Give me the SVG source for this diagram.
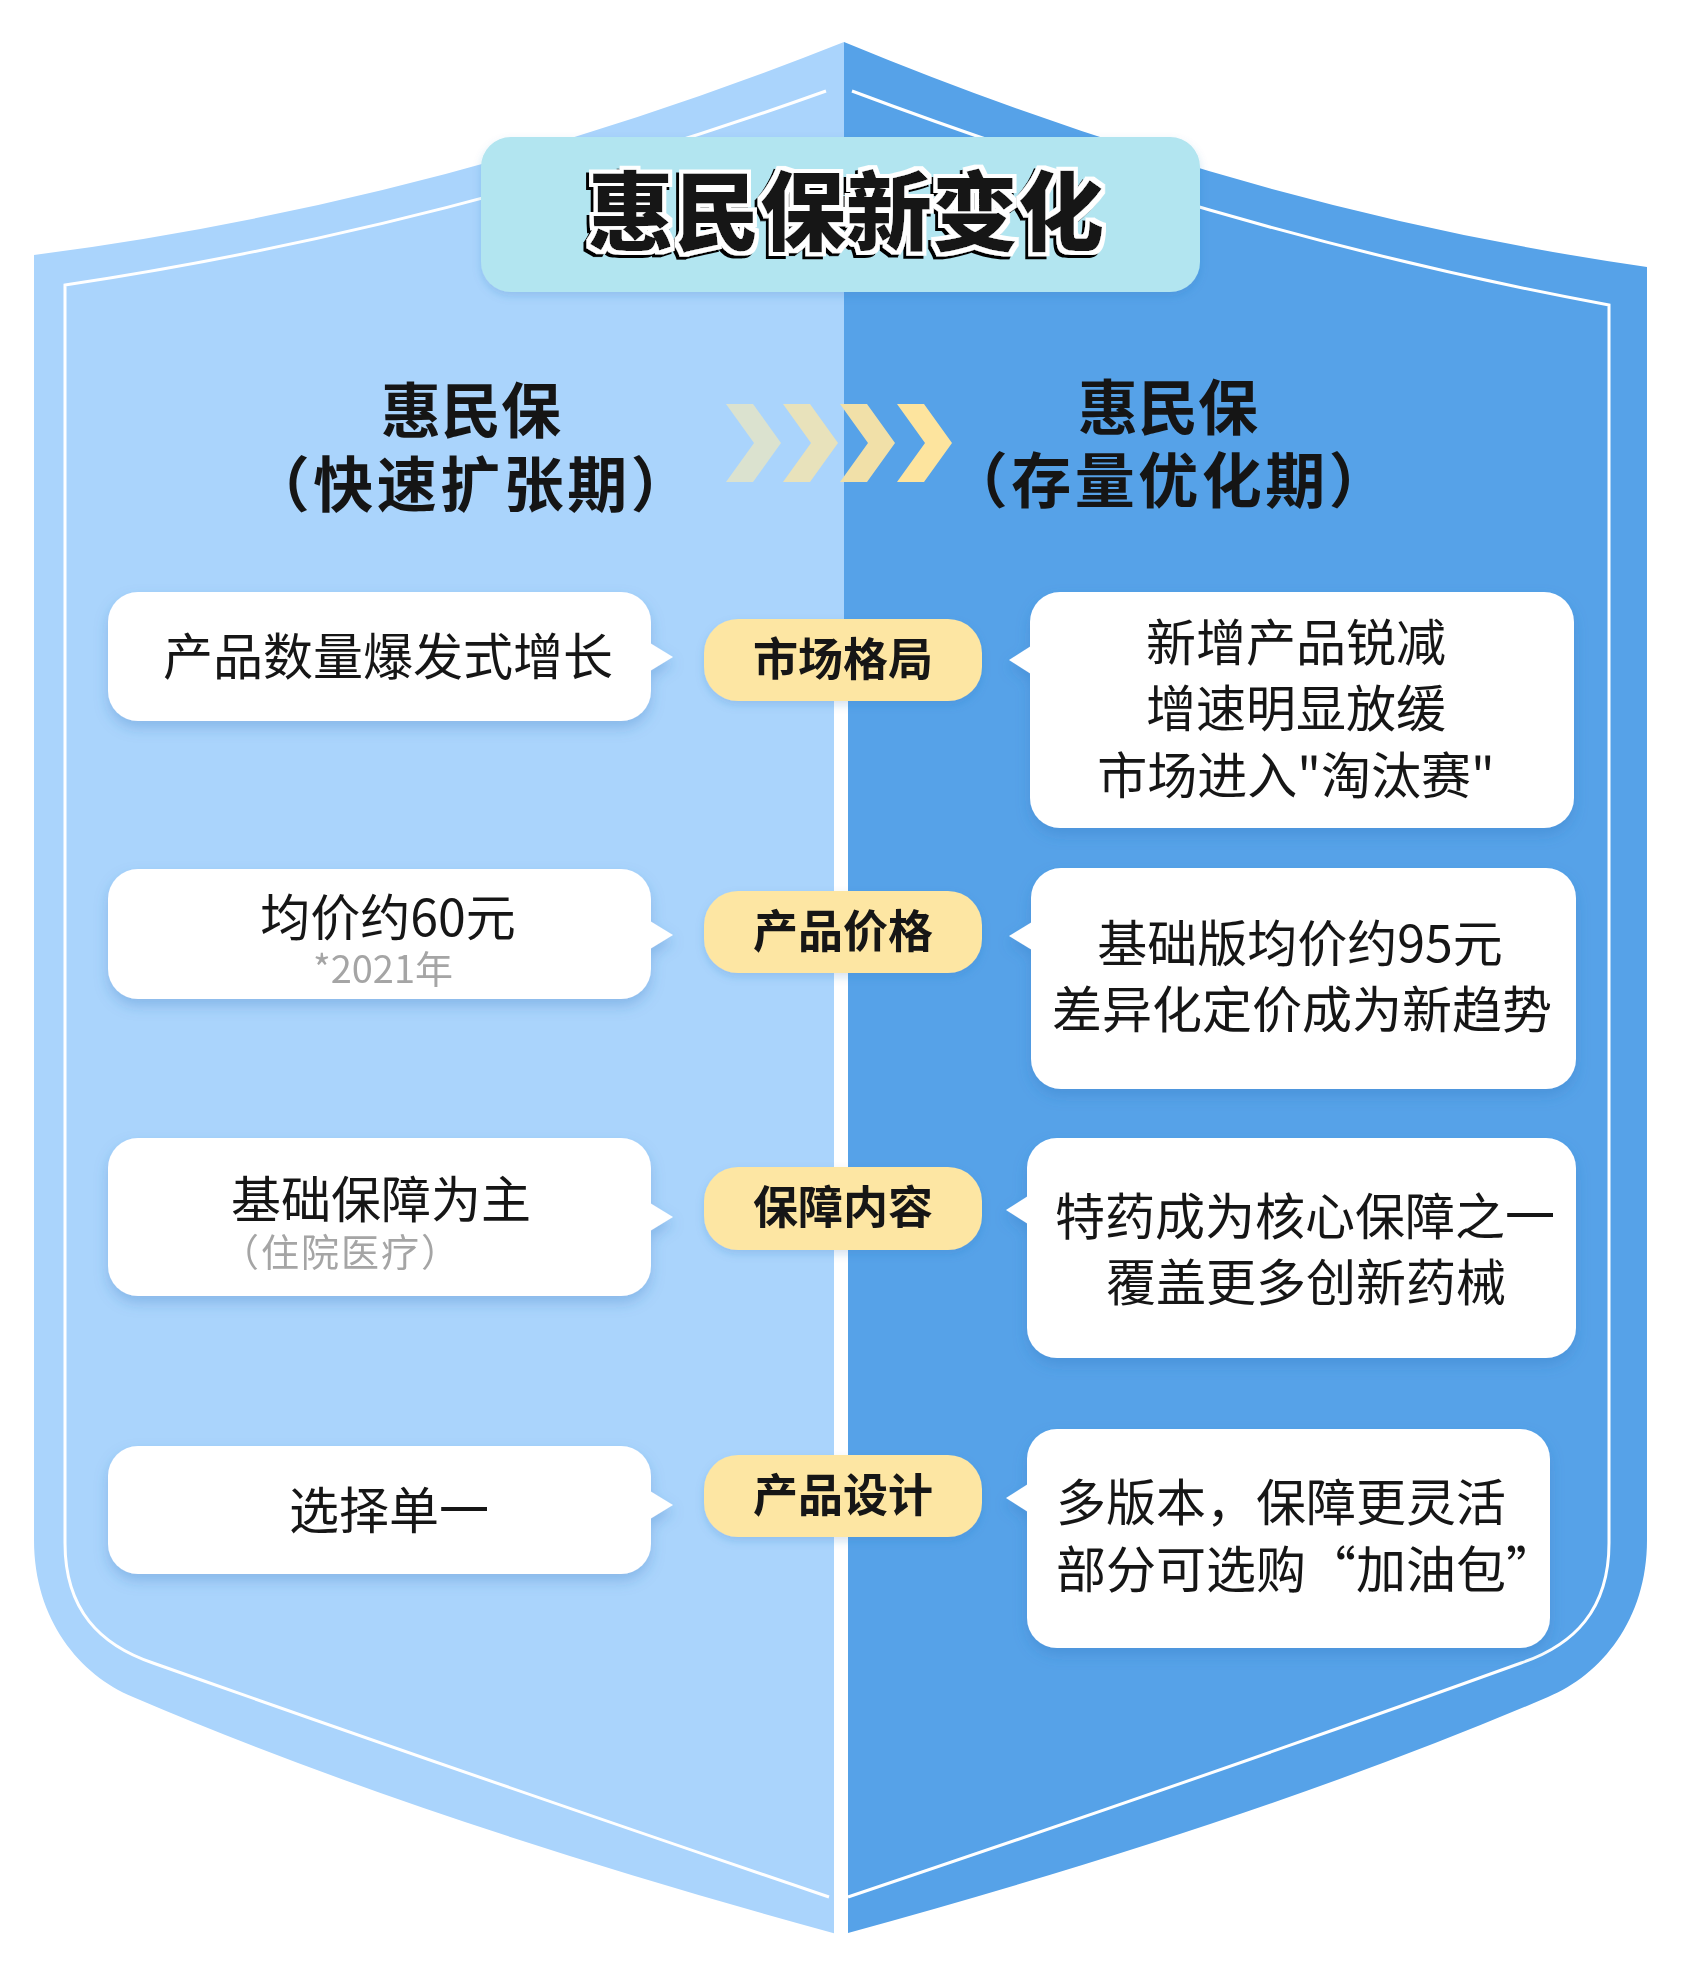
<svg xmlns="http://www.w3.org/2000/svg" width="1685" height="1968" viewBox="0 0 1685 1968">
<defs>
<style>
.t{font-family:"Noto Sans CJK SC","Noto Sans",sans-serif;fill:#151515;}
.body{font-size:50px;font-weight:400;}
.sub{font-size:38px;fill:#a5a5a5;}
.hd{font-size:60px;font-weight:700;}
.pl{font-size:45px;font-weight:700;}
.box{fill:#ffffff;}
.pill{fill:#fde6a3;}
.inner{fill:none;stroke:#ffffff;stroke-width:3;}
</style>
<filter id="sh" x="-10%" y="-10%" width="120%" height="130%">
<feDropShadow dx="0" dy="7" stdDeviation="7" flood-color="#2f6fb5" flood-opacity="0.28"/>
</filter>
<filter id="shs" x="-10%" y="-10%" width="120%" height="130%">
<feDropShadow dx="0" dy="4" stdDeviation="4" flood-color="#2f6fb5" flood-opacity="0.2"/>
</filter>
<filter id="tfx" x="-5%" y="-25%" width="110%" height="150%">
<feMorphology in="SourceAlpha" operator="dilate" radius="3.5" result="d"/>
<feOffset in="d" dx="-3" dy="3" result="o"/>
<feFlood flood-color="#000000" result="k"/>
<feComposite in="k" in2="o" operator="in" result="shadow"/>
<feFlood flood-color="#ffffff" result="w"/>
<feComposite in="w" in2="d" operator="in" result="outline"/>
<feMerge>
<feMergeNode in="shadow"/>
<feMergeNode in="outline"/>
<feMergeNode in="SourceGraphic"/>
</feMerge>
</filter>
</defs>
<rect width="1685" height="1968" fill="#ffffff"/>
<g id="shield">
<path d="M 844 42 Q 442 202 34 255 L 34 1540 C 34 1620 80 1675 133 1697 Q 420 1820 833 1933 L 844 1936 Z" fill="#aad4fc"/>
<path d="M 844 42 Q 1250 210 1647 267 L 1647 1540 C 1647 1620 1601 1675 1548 1697 Q 1261 1820 848 1933 L 844 1936 Z" fill="#56a2e8"/>
<path class="inner" d="M 826 91 Q 440 229 65 285 L 65 1543 C 65 1610 100 1645 153 1663 Q 470 1775 829 1897"/>
<path class="inner" d="M 852 91 Q 1241 237 1609 305 L 1609 1543 C 1609 1610 1574 1645 1521 1663 Q 1211 1775 848 1897"/>
</g>
<g id="connectors">
<rect x="834" y="700" width="14" height="1245" fill="#ffffff"/>
</g>
<g id="title">
<rect x="481" y="137" width="719" height="155" rx="30" fill="#b2e5f0" filter="url(#shs)"/>
<text class="t" x="846" y="244" text-anchor="middle" font-size="86" font-weight="900" fill="#000" filter="url(#tfx)">惠民保新变化</text>
</g>
<g id="header-left">
<text class="t hd" x="471" y="433" text-anchor="middle">惠民保</text>
<text class="t hd" x="472" y="507" text-anchor="middle" letter-spacing="3.5">（快速扩张期）</text>
</g>
<g id="header-right">
<text class="t hd" x="1168" y="430" text-anchor="middle">惠民保</text>
<text class="t hd" x="1170" y="503" text-anchor="middle" letter-spacing="3.5">（存量优化期）</text>
</g>
<g id="chevrons">
<polygon points="726,404 753,404 781,443 753,482 726,482 754,443" fill="#dbe2cf"/>
<polygon points="783,404 810,404 838,443 810,482 783,482 811,443" fill="#e8e2bb"/>
<polygon points="840,404 867,404 895,443 867,482 840,482 868,443" fill="#f1e0a8"/>
<polygon points="897,404 924,404 952,443 924,482 897,482 925,443" fill="#fde49e"/>
</g>
<g id="row1-left" filter="url(#sh)">
<rect class="box" x="108" y="592" width="543" height="129" rx="30"/>
<polygon class="box" points="650,643 673,657 650,671"/>
<text class="t body" x="388" y="675" text-anchor="middle">产品数量爆发式增长</text>
</g>
<g id="row1-pill" filter="url(#shs)">
<rect class="pill" x="704" y="619" width="278" height="82" rx="34"/>
<text class="t pl" x="843" y="676" text-anchor="middle">市场格局</text>
</g>
<g id="row1-right" filter="url(#sh)">
<rect class="box" x="1030" y="592" width="544" height="236" rx="30"/>
<polygon class="box" points="1031,646 1009,660 1031,674"/>
<text class="t body" x="1296" y="661" text-anchor="middle">新增产品锐减</text>
<text class="t body" x="1296" y="727" text-anchor="middle">增速明显放缓</text>
<text class="t body" x="1296" y="794" text-anchor="middle">市场进入"淘汰赛"</text>
</g>
<g id="row2-left" filter="url(#sh)">
<rect class="box" x="108" y="869" width="543" height="130" rx="30"/>
<polygon class="box" points="650,921 673,935 650,949"/>
<text class="t body" x="388" y="936" text-anchor="middle">均价约60元</text>
<text class="t sub" x="383" y="983" text-anchor="middle">*2021年</text>
</g>
<g id="row2-pill" filter="url(#shs)">
<rect class="pill" x="704" y="891" width="278" height="82" rx="34"/>
<text class="t pl" x="843" y="948" text-anchor="middle">产品价格</text>
</g>
<g id="row2-right" filter="url(#sh)">
<rect class="box" x="1031" y="868" width="545" height="221" rx="30"/>
<polygon class="box" points="1032,922 1009,936 1032,950"/>
<text class="t body" x="1300" y="962" text-anchor="middle" font-size="51">基础版均价约95元</text>
<text class="t body" x="1302" y="1028" text-anchor="middle" font-size="51">差异化定价成为新趋势</text>
</g>
<g id="row3-left" filter="url(#sh)">
<rect class="box" x="108" y="1138" width="543" height="158" rx="30"/>
<polygon class="box" points="650,1203 673,1217 650,1231"/>
<text class="t body" x="381" y="1218" text-anchor="middle">基础保障为主</text>
<text class="t sub" x="341" y="1266" text-anchor="middle" letter-spacing="2">（住院医疗）</text>
</g>
<g id="row3-pill" filter="url(#shs)">
<rect class="pill" x="704" y="1167" width="278" height="83" rx="34"/>
<text class="t pl" x="843" y="1224" text-anchor="middle">保障内容</text>
</g>
<g id="row3-right" filter="url(#sh)">
<rect class="box" x="1027" y="1138" width="549" height="220" rx="30"/>
<polygon class="box" points="1028,1196 1006,1210 1028,1224"/>
<text class="t body" x="1305" y="1235" text-anchor="middle">特药成为核心保障之一</text>
<text class="t body" x="1306" y="1301" text-anchor="middle">覆盖更多创新药械</text>
</g>
<g id="row4-left" filter="url(#sh)">
<rect class="box" x="108" y="1446" width="543" height="128" rx="30"/>
<polygon class="box" points="650,1491 673,1505 650,1519"/>
<text class="t body" x="389" y="1529" text-anchor="middle">选择单一</text>
</g>
<g id="row4-pill" filter="url(#shs)">
<rect class="pill" x="704" y="1455" width="278" height="82" rx="34"/>
<text class="t pl" x="843" y="1512" text-anchor="middle">产品设计</text>
</g>
<g id="row4-right" filter="url(#sh)">
<rect class="box" x="1027" y="1429" width="523" height="219" rx="30"/>
<polygon class="box" points="1028,1484 1006,1498 1028,1512"/>
<text class="t body" x="1056" y="1521">多版本，保障更灵活</text>
<text class="t body" x="1056" y="1588">部分可选购“加油包”</text>
</g>
</svg>
